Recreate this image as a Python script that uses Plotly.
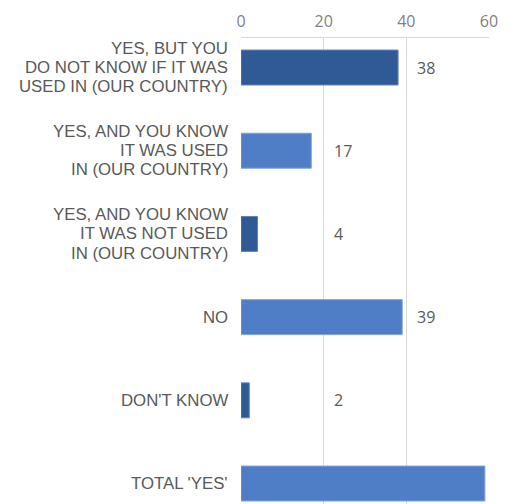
import plotly.graph_objects as go

# Survey responses (count of respondents); category labels split into lines
categories = [
    ["YES, BUT YOU", "DO NOT KNOW IF IT WAS", "USED IN (OUR COUNTRY)"],
    ["YES, AND YOU KNOW", "IT WAS USED", "IN (OUR COUNTRY)"],
    ["YES, AND YOU KNOW", "IT WAS NOT USED", "IN (OUR COUNTRY)"],
    ["NO"],
    ["DON'T KNOW"],
    ["TOTAL 'YES'"],
]
values = [38, 17, 4, 39, 2, 59]
x_ticks = [0, 20, 40, 60]

# where each value label starts, in axis units
label_x = [42, 22, 22, 42, 22, 62]

DARK = "#2F5A96"
LIGHT = "#4F7EC7"
bar_colors = [DARK if i % 2 == 0 else LIGHT for i in range(len(values))]
edge_colors = ["#5F84BA" if i % 2 == 0 else "#7FA2D8" for i in range(len(values))]

TEXT = "#595959"
FONT = "Open Sans"
LABEL_FONT = "Liberation Sans"
LINE_PITCH = 19.2  # px between lines of a category label

idx = list(range(len(categories)))

fig = go.Figure(
    go.Bar(
        x=values,
        y=idx,
        orientation="h",
        width=0.42,
        marker=dict(color=bar_colors, line=dict(color=edge_colors, width=1)),
        hoverinfo="skip",
    )
)

# value labels
for i, (v, lx) in enumerate(zip(values, label_x)):
    fig.add_annotation(
        x=lx, y=i, text=str(v), showarrow=False,
        xanchor="left", yanchor="middle",
        font=dict(family=FONT, size=16, color=TEXT),
    )

# category labels, right-aligned against the plot, one line at a time
for i, lines in enumerate(categories):
    n = len(lines)
    for k, line in enumerate(lines):
        fig.add_annotation(
            xref="paper", x=0, y=i, text=line, showarrow=False,
            xanchor="right", yanchor="middle", xshift=-12,
            yshift=((n - 1) / 2 - k) * LINE_PITCH,
            borderpad=0,
            font=dict(family=LABEL_FONT, size=16.8, color=TEXT),
        )

fig.update_layout(
    width=516,
    height=504,
    margin=dict(l=240.5, r=26.5, t=38, b=0),
    plot_bgcolor="white",
    paper_bgcolor="white",
    showlegend=False,
    font=dict(family=FONT, color=TEXT),
    xaxis=dict(
        side="top",
        range=[0, 60],
        tickvals=x_ticks,
        ticktext=[str(t) for t in x_ticks],
        showgrid=True,
        gridcolor="#D9D9D9",
        gridwidth=1,
        showline=True,
        linecolor="#D9D9D9",
        zeroline=False,
        ticks="",
        ticklabelstandoff=4,
        tickfont=dict(size=16, color="#7F7F7F"),
        fixedrange=True,
    ),
    yaxis=dict(
        range=[5.246, -0.355],
        tickvals=idx,
        showticklabels=False,
        showgrid=False,
        zeroline=False,
        showline=False,
        ticks="",
        fixedrange=True,
    ),
)

fig.write_html("out.html")
